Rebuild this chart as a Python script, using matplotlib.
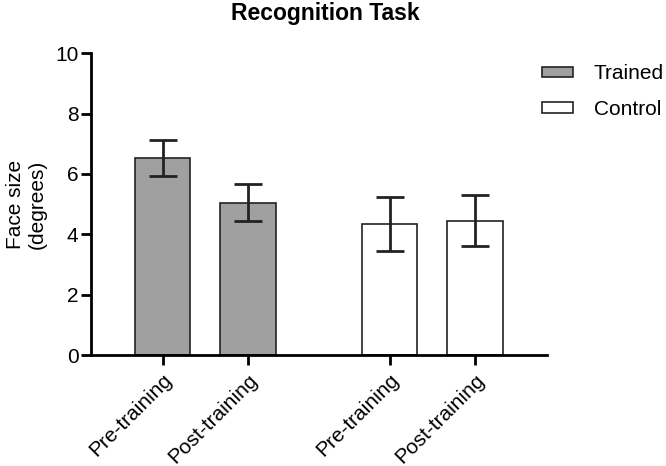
import numpy as np
import matplotlib.pyplot as plt
from matplotlib.patches import Patch

plt.rcParams['font.family'] = ['Liberation Sans', 'DejaVu Sans']

labels = ["Pre-training", "Post-training", "Pre-training", "Post-training"]
groups = ["Trained", "Trained", "Control", "Control"]
means = [6.53, 5.05, 4.35, 4.45]
errs = [0.59, 0.60, 0.89, 0.85]
positions = [0, 1, 2.66, 3.66]

colors = {"Trained": "#a0a0a0", "Control": "white"}

fig = plt.figure(figsize=(6.66, 4.66), dpi=100)
ax = fig.add_axes([0.1366, 0.238, 0.6844, 0.648])

for x, m, e, g in zip(positions, means, errs, groups):
    ax.bar(x, m, width=0.65, color=colors[g], edgecolor="#222222", linewidth=1.2, zorder=2)
    ax.errorbar(x, m, yerr=e, fmt="none", ecolor="#222222", elinewidth=2,
                capsize=10, capthick=2, zorder=3)

ax.set_xlim(-0.84, 4.5)
ax.set_ylim(0, 10)
ax.set_yticks([0, 2, 4, 6, 8, 10])
ax.set_xticks(positions)
ax.set_xticklabels(labels, rotation=45, ha="right", rotation_mode="anchor", fontsize=15)
ax.tick_params(axis="y", labelsize=15, width=2, length=7, direction="out", pad=2)
ax.tick_params(axis="x", width=2, length=7, direction="out", pad=4)

for s in ["top", "right"]:
    ax.spines[s].set_visible(False)
for s in ["left", "bottom"]:
    ax.spines[s].set_linewidth(2)

ax.set_ylabel("Face size\n(degrees)", fontsize=15, labelpad=6)
fig.text(0.488, 0.995, "Recognition Task", fontsize=16.5, fontweight="bold",
         ha="center", va="top")

handles = [Patch(facecolor=colors[k], edgecolor="#222222", linewidth=1.2) for k in ["Trained", "Control"]]
ax.legend(handles, ["Trained", "Control"], loc="upper left", bbox_to_anchor=(0.989, 0.963),
          borderaxespad=0, borderpad=0, frameon=False, fontsize=15,
          handlelength=1.5, handleheight=0.4, labelspacing=0.8, handletextpad=1.0)

fig.savefig("out.png", dpi=100)
